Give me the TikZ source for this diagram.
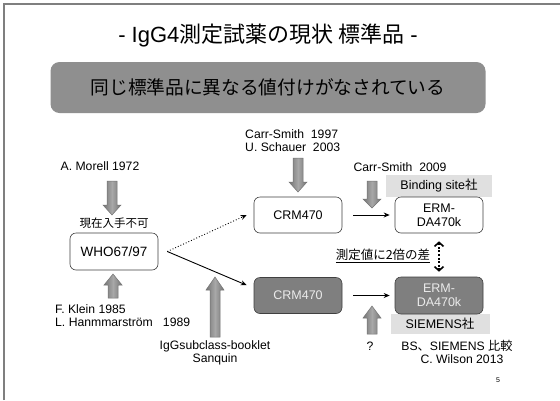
\documentclass[tikz,border=0pt]{standalone}
\usepackage{fontspec}
\setmainfont{Liberation Sans}
\newfontfamily\jp{Noto Sans CJK JP}
\usetikzlibrary{arrows.meta}
\definecolor{framegray}{HTML}{7F7F7F}
\definecolor{bannergray}{HTML}{8F8F8F}
\definecolor{darkfill}{HTML}{7F7F7F}
\definecolor{labelbg}{HTML}{E0E0E0}
\definecolor{arrowmid}{HTML}{A8A8A8}
\definecolor{arrowedge}{HTML}{747474}
\newcommand\dnblock[4]{%
  \path[blockarrow] (#1-5,#2) -- (#1+5,#2) -- (#1+5,#4) -- (#1+9,#4) -- (#1,#3) -- (#1-9,#4) -- (#1-5,#4) -- cycle;}
\newcommand\upblock[4]{%
  \path[blockarrow] (#1,#2) -- (#1+9,#4) -- (#1+5,#4) -- (#1+5,#3) -- (#1-5,#3) -- (#1-5,#4) -- (#1-9,#4) -- cycle;}
\begin{document}
\begin{tikzpicture}[x=1pt,y=-1pt,
  lightbox/.style={draw=black!75, fill=white, rounded corners=6pt, minimum width=88pt, minimum height=36pt, inner sep=0pt, align=center, font=\fontsize{12.5}{14}\selectfont, line width=0.6pt},
  darkbox/.style={lightbox, fill=darkfill, text=black!8},
  small/.style={font=\fontsize{12.2}{14}\selectfont, inner sep=0pt},
  tag/.style={fill=labelbg, minimum width=106pt, minimum height=22pt, inner sep=0pt, font=\fontsize{12.5}{14}\selectfont},
  blockarrow/.style={draw=arrowedge, line width=0.5pt, left color=arrowedge, right color=arrowedge, middle color=arrowmid}
]
\useasboundingbox (0,0) rectangle (560,400);
\fill[white] (0,0) rectangle (560,400);
\draw[framegray, line width=1.2pt] (4,400) -- (4,4) -- (560,4);

% title and banner
\node[inner sep=0pt, font=\fontsize{22}{26}\selectfont] (title) at (268,35) {- IgG4{\jp 測定試薬の現状 標準品} -};
\node[fill=bannergray, rounded corners=9pt, minimum width=435pt, minimum height=51pt, inner sep=0pt, font=\jp\fontsize{18.7}{22}\selectfont] (banner) at (268,87.5) {同じ標準品に異なる値付けがなされている};

% left side
\node[small] (morell) at (100,166) {A. Morell 1972};
\node[small, font=\jp\fontsize{11.5}{13}\selectfont] (unavail) at (114,223) {現在入手不可};
\node[lightbox, minimum height=37pt, font=\fontsize{13.5}{15}\selectfont] (who) at (114,251.5) {WHO67/97};
\node[small, anchor=west] (klein) at (55,309) {F. Klein 1985};
\node[small, anchor=west] (hamm) at (55,322) {L. Hanmmarström\ \ \ 1989};
\node[small] (booklet) at (215,346) {IgGsubclass-booklet};
\node[small] (sanquin) at (215,359) {Sanquin};

% middle
\node[small, anchor=west] (cs97) at (245,134) {Carr-Smith\ \ 1997};
\node[small, anchor=west] (us03) at (245,147) {U. Schauer\ \ 2003};
\node[lightbox] (crm1) at (298,215) {CRM470};
\node[darkbox] (crm2) at (298,295.5) {CRM470};

% right side
\node[small] (cs09) at (400,167) {Carr-Smith\ \ 2009};
\node[tag] (bstag) at (439,186) {Binding site{\jp 社}};
\node[tag, minimum width=99pt, minimum height=20pt] (smtag) at (440,324) {SIEMENS{\jp 社}};
\node[lightbox, minimum height=36pt] (erm1) at (439,215) {ERM-\\DA470k};
\node[darkbox, minimum height=37pt] (erm2) at (439,295.5) {ERM-\\DA470k};
\node[inner sep=0pt, font=\jp\fontsize{12.5}{14}\selectfont] (diff) at (383,256) {\underline{測定値に2倍の差}};
\node[small] (q) at (370,346) {?};
\node[small] (bs) at (457,346) {BS{\jp 、}SIEMENS {\jp 比較}};
\node[small] (wilson) at (462,359) {C. Wilson 2013};
\node[inner sep=0pt, font=\fontsize{7}{8}\selectfont] (page) at (498,380) {5};

% block arrows
\dnblock{112}{181}{215}{205}
\dnblock{298}{158}{192}{182}
\dnblock{372}{181}{208}{199}
\upblock{113}{274}{298}{285}
\upblock{215}{277}{337}{290}
\upblock{372}{306}{334}{318}

% connectors
\draw[line width=0.9pt, dotted, -{Stealth[length=6pt,width=5pt]}] ([xshift=9pt]who.east) -- ([xshift=-7pt]crm1.west);
\draw[line width=0.9pt, -{Stealth[length=6pt,width=5pt]}] ([xshift=9pt]who.east) -- ([xshift=-7pt,yshift=-8pt]crm2.north west);
\draw[line width=0.9pt, -{Stealth[length=6pt,width=5pt]}, shorten <=11pt, shorten >=5pt] (crm1.east) -- (erm1.west);
\draw[line width=0.9pt, -{Stealth[length=6pt,width=5pt]}, shorten <=11pt, shorten >=5pt] (crm2.east) -- (erm2.west);
\draw[line width=2pt, dash pattern=on 2pt off 1.6pt, {Straight Barb[length=4pt,width=9pt,line width=1.6pt]}-{Straight Barb[length=4pt,width=9pt,line width=1.6pt]}, shorten <=8pt, shorten >=5pt] (erm1.south) -- (erm2.north);
\end{tikzpicture}
\end{document}
